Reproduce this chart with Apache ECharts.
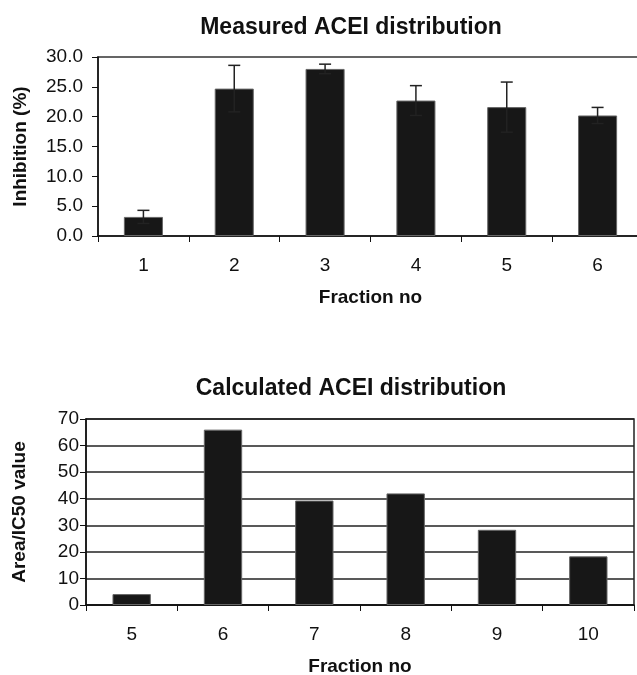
<!DOCTYPE html>
<html>
<head>
<meta charset="utf-8">
<script src="https://cdn.jsdelivr.net/npm/echarts@6/dist/echarts.min.js"></script>
<style>
html,body{margin:0;padding:0;background:#fff;}
#c{width:637px;height:675px;}
</style>
</head>
<body>
<div id="c"></div>
<script>
// Top chart: Measured ACEI distribution
const measuredCategories = ['1', '2', '3', '4', '5', '6'];
const measuredValues = [3.2, 24.7, 28.0, 22.7, 21.6, 20.2];
const measuredErrors = [1.1, 3.9, 0.8, 2.5, 4.2, 1.35];
const measuredTicks = [0, 5, 10, 15, 20, 25, 30];

// Bottom chart: Calculated ACEI distribution
const calculatedCategories = ['5', '6', '7', '8', '9', '10'];
const calculatedValues = [4.1, 66.0, 39.3, 42.0, 28.3, 18.3];
const calculatedTicks = [0, 10, 20, 30, 40, 50, 60, 70];

const FONT = 'Liberation Sans';
const errData = measuredValues.map((v, i) => [i, v - measuredErrors[i], v + measuredErrors[i]]);

const chart = echarts.init(document.getElementById('c'), null, {renderer: 'canvas'});
chart.setOption({
  animation: false,
  backgroundColor: '#fff',
  textStyle: {fontFamily: FONT, color: '#111'},
  title: [
    {text: 'Measured ACEI distribution', left: 346, top: 11, textAlign: 'center',
     textStyle: {fontFamily: FONT, fontSize: 23, fontWeight: 'bold', color: '#111'}},
    {text: 'Calculated ACEI distribution', left: 346, top: 372, textAlign: 'center',
     textStyle: {fontFamily: FONT, fontSize: 23, fontWeight: 'bold', color: '#111'}}
  ],
  grid: [
    {left: 98, top: 57, width: 545, height: 179, show: true, borderColor: '#333', borderWidth: 1.5,
     containLabel: false, outerBoundsMode: 'none'},
    {left: 86, top: 419, width: 548, height: 186, show: true, borderColor: '#222', borderWidth: 1.5,
     containLabel: false, outerBoundsMode: 'none'}
  ],
  xAxis: [
    {type: 'category', gridIndex: 0, data: measuredCategories,
     name: 'Fraction no', nameLocation: 'middle', nameGap: 52,
     nameTextStyle: {fontFamily: FONT, fontSize: 19, fontWeight: 'bold', color: '#111'},
     axisLine: {lineStyle: {color: '#111', width: 1.5}},
     axisTick: {show: true, length: 6, lineStyle: {color: '#111', width: 1}},
     axisLabel: {fontFamily: FONT, fontSize: 19, color: '#111', margin: 20}},
    {type: 'category', gridIndex: 1, data: calculatedCategories,
     name: 'Fraction no', nameLocation: 'middle', nameGap: 52,
     nameTextStyle: {fontFamily: FONT, fontSize: 19, fontWeight: 'bold', color: '#111'},
     axisLine: {lineStyle: {color: '#111', width: 1.5}},
     axisTick: {show: true, length: 6, lineStyle: {color: '#111', width: 1}},
     axisLabel: {fontFamily: FONT, fontSize: 19, color: '#111', margin: 20}}
  ],
  yAxis: [
    {type: 'value', gridIndex: 0, min: measuredTicks[0], max: measuredTicks[measuredTicks.length - 1], interval: 5,
     name: 'Inhibition (%)', nameLocation: 'middle', nameGap: 68,
     nameTextStyle: {fontFamily: FONT, fontSize: 19, fontWeight: 'bold', color: '#111'},
     axisLine: {show: true, lineStyle: {color: '#111', width: 1.5}},
     axisTick: {show: true, length: 6, lineStyle: {color: '#111', width: 1}},
     splitLine: {show: false},
     axisLabel: {fontFamily: FONT, fontSize: 19, color: '#111', margin: 15, formatter: v => v.toFixed(1)}},
    {type: 'value', gridIndex: 1, min: calculatedTicks[0], max: calculatedTicks[calculatedTicks.length - 1], interval: 10,
     name: 'Area/IC50 value', nameLocation: 'middle', nameGap: 57,
     nameTextStyle: {fontFamily: FONT, fontSize: 19, fontWeight: 'bold', color: '#111'},
     axisLine: {show: true, lineStyle: {color: '#111', width: 1.5}},
     axisTick: {show: true, length: 6, lineStyle: {color: '#111', width: 1}},
     splitLine: {show: true, lineStyle: {color: '#222', width: 1.5}},
     axisLabel: {fontFamily: FONT, fontSize: 19, color: '#111', margin: 7}}
  ],
  series: [
    {type: 'bar', xAxisIndex: 0, yAxisIndex: 0, data: measuredValues, barWidth: '43%',
     itemStyle: {color: '#171717', borderColor: '#666', borderWidth: 1}},
    {type: 'custom', xAxisIndex: 0, yAxisIndex: 0, data: errData, z: 5,
     renderItem: function (params, api) {
       const idx = api.value(0);
       const lo = api.coord([idx, api.value(1)]);
       const hi = api.coord([idx, api.value(2)]);
       const hw = 6;
       const style = {stroke: '#222', lineWidth: 1.5};
       return {type: 'group', children: [
         {type: 'line', shape: {x1: hi[0], y1: hi[1], x2: lo[0], y2: lo[1]}, style: style},
         {type: 'line', shape: {x1: hi[0] - hw, y1: hi[1], x2: hi[0] + hw, y2: hi[1]}, style: style},
         {type: 'line', shape: {x1: lo[0] - hw, y1: lo[1], x2: lo[0] + hw, y2: lo[1]}, style: style}
       ]};
     }},
    {type: 'bar', xAxisIndex: 1, yAxisIndex: 1, data: calculatedValues, barWidth: '42%',
     itemStyle: {color: '#171717', borderColor: '#666', borderWidth: 1}}
  ]
});
</script>
</body>
</html>
